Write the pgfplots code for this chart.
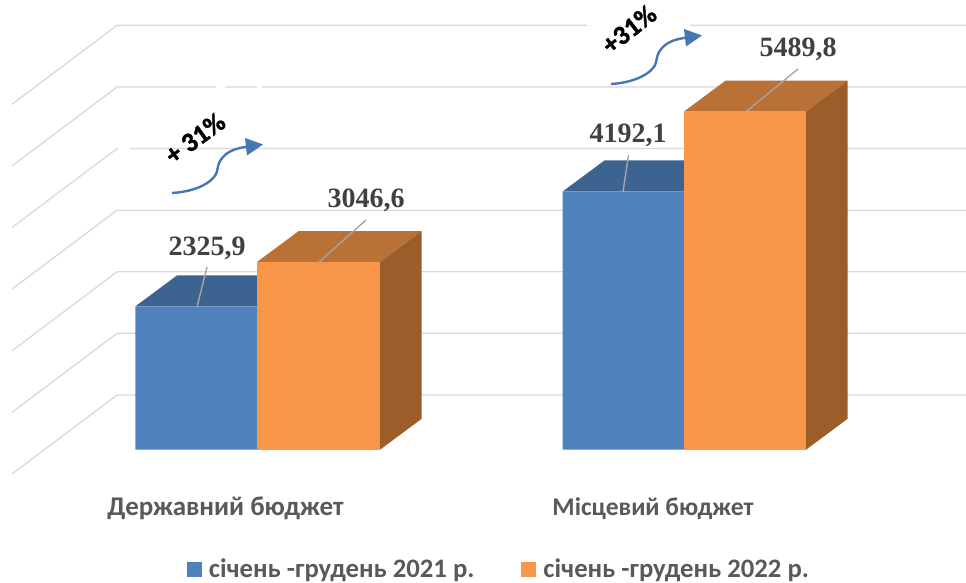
\documentclass[border=0pt]{standalone}
\usepackage{pgfplots}
\pgfplotsset{compat=1.18}
\usepackage{fontspec}
\setmainfont{Carlito}
\newfontfamily\seriffont{Liberation Serif}
\newfontfamily\heavy[FakeBold=1.5]{Carlito Bold}
\definecolor{blueF}{HTML}{4F81BD}
\definecolor{blueT}{HTML}{3D6391}
\definecolor{orF}{HTML}{F99648}
\definecolor{orT}{HTML}{B97135}
\definecolor{orS}{HTML}{9B5E2A}
\definecolor{gridc}{HTML}{D9D9D9}
\definecolor{txt}{HTML}{595959}
\definecolor{lab}{HTML}{404040}
\definecolor{arrowc}{HTML}{4577B5}
\begin{document}
\begin{tikzpicture}
\useasboundingbox (0pt,0pt) rectangle (966pt,583pt);
\begin{axis}[
  at={(0pt,108.3pt)}, anchor=south west,
  scale only axis, width=966pt, height=474pt,
  xmin=0, xmax=966, ymin=-405.8, ymax=7288.96,
  axis line style={draw=none},
  clip=false,
  ytick=\empty,
  xtick={225.5,653},
  xticklabels={Державний бюджет,{\fontsize{25.5}{31}\selectfont Місцевий бюджет}},
  major tick length=0pt,
  xticklabel style={font=\fontsize{27}{31}\selectfont\bfseries, text=txt, yshift=-19pt},
  legend style={at={(499.5/966,-94.5/474)}, anchor=center, draw=none, fill=none,
    legend columns=2, font=\fontsize{26.7}{31}\selectfont\bfseries, text=txt,
    /tikz/every even column/.append style={column sep=44pt},
    /tikz/every odd column/.append style={column sep=0pt},
    nodes={inner xsep=3pt}},
  legend image code/.code={\path (0pt,0pt)--(19pt,0pt);\fill[#1] (0pt,-7.5pt) rectangle (15pt,7.5pt);},
]
% gridlines
\addplot[forget plot,gridc,line width=1.3pt] coordinates {(12,-394)(117,888)(966,888)};
\addplot[forget plot,gridc,line width=1.3pt] coordinates {(12,606)(117,1888)(966,1888)};
\addplot[forget plot,gridc,line width=1.3pt] coordinates {(12,1606)(117,2888)(966,2888)};
\addplot[forget plot,gridc,line width=1.3pt] coordinates {(12,2606)(117,3888)(966,3888)};
\addplot[forget plot,gridc,line width=1.3pt] coordinates {(12,3606)(117,4888)(966,4888)};
\addplot[forget plot,gridc,line width=1.3pt] coordinates {(12,4606)(117,5888)(966,5888)};
\addplot[forget plot,gridc,line width=1.3pt] coordinates {(12,5606)(117,6888)(966,6888)};
% tops and sides (depth 503 value units, 41.7 x units)
\addplot[forget plot,fill=blueT,draw=none] coordinates {(135.3,2325.9)(177,2828.9)(298.7,2828.9)(257,2325.9)} --cycle;
\addplot[forget plot,fill=blueT,draw=none] coordinates {(562.7,4192.1)(604.4,4695.1)(725.7,4695.1)(684,4192.1)} --cycle;
% blue fronts
\addplot[ybar,bar shift=0pt,bar width=121.7,fill=blueF,draw=none] coordinates {(196.15,2325.9)(623.35,4192.1)};
\addlegendentry{січень -грудень 2021 р.}
\addplot[forget plot,fill=orT,draw=none] coordinates {(257,3046.6)(298.7,3549.6)(421.7,3549.6)(380,3046.6)} --cycle;
\addplot[forget plot,fill=orS,draw=none] coordinates {(380,0)(421.7,503)(421.7,3549.6)(380,3046.6)} --cycle;
\addplot[forget plot,fill=orT,draw=none] coordinates {(684,5489.8)(725.7,5992.8)(847.7,5992.8)(806,5489.8)} --cycle;
\addplot[forget plot,fill=orS,draw=none] coordinates {(806,0)(847.7,503)(847.7,5992.8)(806,5489.8)} --cycle;
% orange fronts
\addplot[ybar,bar shift=0pt,bar width=122.8,fill=orF,draw=none] coordinates {(318.5,3046.6)};
\addlegendentry{січень -грудень 2022 р.}
\addplot[forget plot,ybar,bar shift=0pt,bar width=122,fill=orF,draw=none] coordinates {(745,5489.8)};
\end{axis}
\begin{scope}[x=1pt,y=-1pt,yshift=583pt]
  % gaps in gridlines
  \draw[white,line width=3pt] (587,25.4)--(690,25.4);
  \draw[white,line width=3pt] (216,87)--(225,87) (257,87)--(262,87);
  \draw[white,line width=3pt] (118,148.4)--(130,148.4);
  % leader lines
  \draw[black!35,line width=1.4pt] (207,267)--(197,307) (366,220)--(318,263) (628.5,155)--(623,192) (798,69)--(745,112.5);
  % data labels
  \node[text=lab,font=\fontsize{28}{30}\selectfont\seriffont\bfseries] at (207,248) {2325,9};
  \node[text=lab,font=\fontsize{28}{30}\selectfont\seriffont\bfseries] at (366,200) {3046,6};
  \node[text=lab,font=\fontsize{28}{30}\selectfont\seriffont\bfseries] at (628,135) {4192,1};
  \node[text=lab,font=\fontsize{28}{30}\selectfont\seriffont\bfseries] at (798,49) {5489,8};
  % arrows
  \foreach \dx/\dy in {0/0,439/-109}{
    \begin{scope}[shift={(\dx,\dy)}]
      \draw[arrowc,line width=2.4pt] (172,193) .. controls (190,192) and (207,186) .. (214,177)
        .. controls (220,170) and (215,165) .. (224,156) .. controls (230,150) and (238,148) .. (248,146.5);
      \fill[arrowc] (263,144.5)--(245,138)--(247,155.5)--cycle;
    \end{scope}
  }
  \node[rotate=36,font=\fontsize{27}{30}\selectfont\heavy] at (195,138) {+ 31\%};
  \node[rotate=38,font=\fontsize{27}{30}\selectfont\heavy] at (629,29) {+31\%};
\end{scope}
\end{tikzpicture}
\end{document}
